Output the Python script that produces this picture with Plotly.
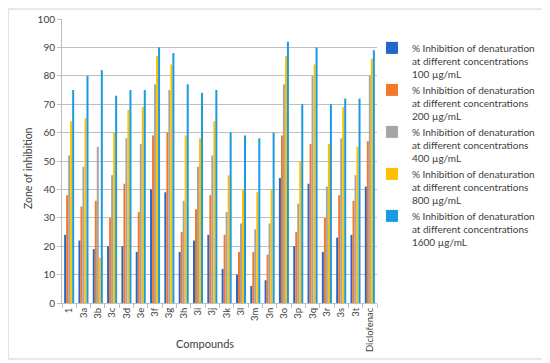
import plotly.graph_objects as go

categories = ["1", "3a", "3b", "3c", "3d", "3e", "3f", "3g", "3h", "3i", "3j", "3k",
              "3l", "3m", "3n", "3o", "3p", "3q", "3r", "3s", "3t", "Diclofenac"]

c100 = [24, 22, 19, 20, 20, 18, 40, 39, 18, 22, 24, 12, 10, 6, 8, 44, 20, 42, 18, 23, 24, 41]
c200 = [38, 34, 36, 30, 42, 32, 59, 60, 25, 33, 38, 24, 18, 18, 17, 59, 25, 56, 30, 38, 36, 57]
c400 = [52, 48, 55, 45, 58, 56, 77, 75, 36, 48, 52, 32, 28, 26, 28, 77, 35, 80, 41, 58, 45, 80]
c800 = [64, 65, 16, 60, 68, 69, 87, 84, 59, 58, 64, 45, 40, 39, 40, 87, 50, 84, 56, 69, 55, 86]
c1600 = [75, 80, 82, 73, 75, 75, 90, 88, 77, 74, 75, 60, 59, 58, 60, 92, 70, 90, 70, 72, 72, 89]

series_names = [
    "% Inhibition of denaturation<br>at different concentrations<br>100 µg/mL",
    "% Inhibition of denaturation<br>at different concentrations<br>200 µg/mL",
    "% Inhibition of denaturation<br>at different concentrations<br>400 µg/mL",
    "% Inhibition of denaturation<br>at different concentrations<br>800 µg/mL",
    "% Inhibition of denaturation<br>at different concentrations<br>1600 µg/mL",
]
series_values = [c100, c200, c400, c800, c1600]
colors = ["#2566C8", "#F07A2A", "#A5A5A5", "#FFC000", "#1A9BE0"]

fig = go.Figure()
for name, vals, col in zip(series_names, series_values, colors):
    fig.add_trace(go.Bar(x=categories, y=vals, name=name, marker_color=col,
                         marker_line_width=0))

font_family = "Lato, 'Open Sans', sans-serif"
fig.update_layout(
    width=550, height=363,
    margin=dict(l=54, r=181, t=11, b=68, autoexpand=False),
    paper_bgcolor="white", plot_bgcolor="white",
    barmode="group", bargap=0.3, bargroupgap=0,
    font=dict(family=font_family, size=10, color="#404040"),
    showlegend=True,
    legend=dict(x=0.984, y=0.944, xanchor="left", yanchor="top",
                font=dict(size=10, color="#404040"), valign="top",
                itemwidth=30, tracegroupgap=0, bgcolor="rgba(0,0,0,0)"),
    xaxis=dict(
        automargin=False,
        tickangle=-90, tickfont=dict(size=9.5, color="#404040"),
        showline=True, linecolor="#BFBFBF", linewidth=1,
        ticks="outside", ticklen=4, tickcolor="#BFBFBF",
        tickson="boundaries", showgrid=False,
    ),
    yaxis=dict(
        automargin=False,
        range=[0, 100], dtick=10, tickfont=dict(size=10, color="#404040"),
        showgrid=True, gridcolor="#BFBFBF", gridwidth=1,
        showline=True, linecolor="#BFBFBF", linewidth=1,
        ticks="outside", ticklen=4, tickcolor="#BFBFBF", zeroline=False,
    ),
    annotations=[
        dict(text="Compounds", xref="paper", yref="paper", x=0.455, y=-0.141,
             xanchor="center", yanchor="middle",
             showarrow=False, font=dict(size=11, color="#404040")),
        dict(text="Zone of inhibition", xref="paper", yref="paper", x=-0.108, y=0.475,
             xanchor="center", yanchor="middle",
             textangle=-90, showarrow=False, font=dict(size=10.5, color="#404040")),
    ],
    shapes=[dict(type="rect", xref="paper", yref="paper",
                 x0=-0.171, x1=1.533, y0=-0.197, y1=1.035,
                 line=dict(color="#D0D0D0", width=1), fillcolor="rgba(0,0,0,0)")],
)

fig.write_html("out.html")
